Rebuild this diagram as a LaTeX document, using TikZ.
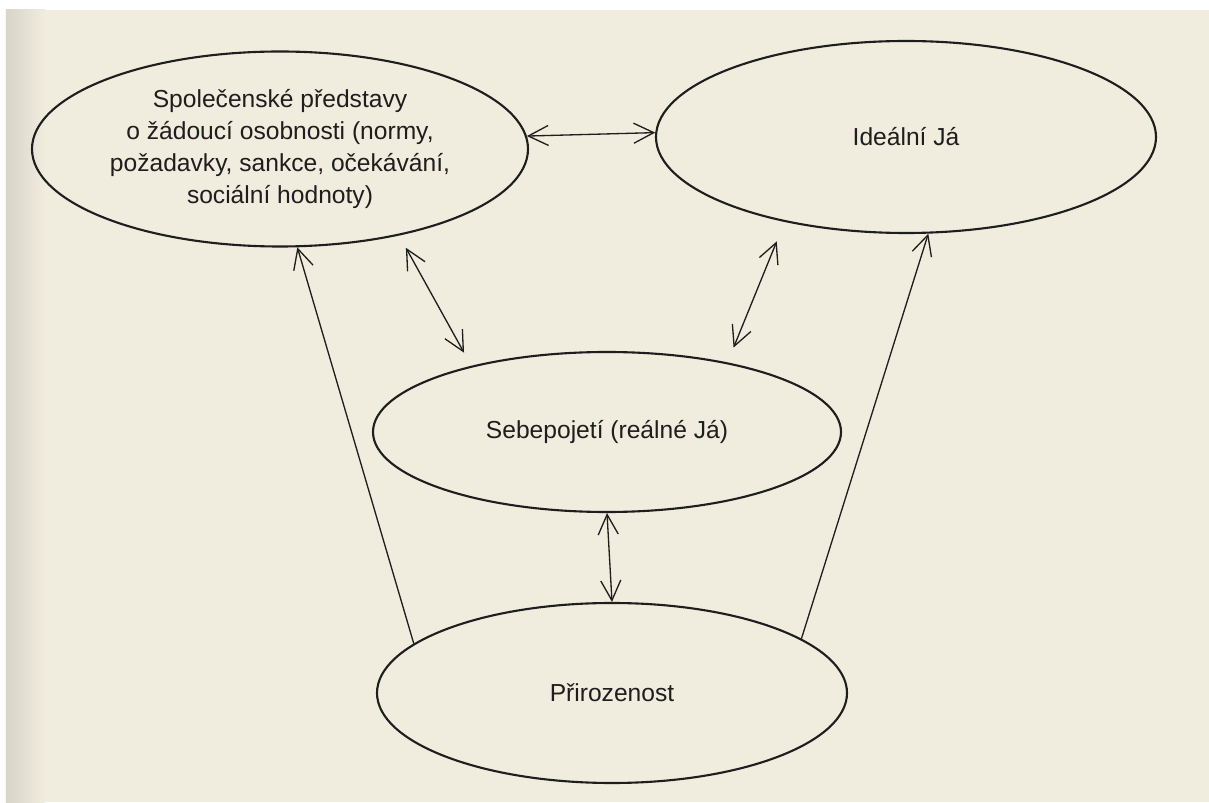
\documentclass[tikz,border=0pt]{standalone}
\usepackage{fontspec}
\setmainfont{Liberation Sans}
\usetikzlibrary{shapes.geometric,arrows.meta}
\definecolor{paper}{HTML}{F0ECDE}
\definecolor{shade}{HTML}{D9D4C9}
\definecolor{ink}{HTML}{1E1E1E}
\tikzset{
  oval/.style={ellipse, draw=ink, line width=1.2pt, inner sep=0pt, align=center,
    text=ink, font=\fontsize{14}{18.2}\selectfont},
  both/.style={draw=ink, line width=0.75pt, {Straight Barb[length=4mm, width=4mm]}-{Straight Barb[length=4mm, width=4mm]}},
  one/.style={draw=ink, line width=0.75pt, -{Straight Barb[length=4mm, width=4mm]}}
}

\begin{document}
\begin{tikzpicture}
% page
\fill[white] (0,0) rectangle (24.18,16.04);
\fill[paper] (0.12,0) rectangle (24.18,15.84);
\shade[left color=shade, right color=paper] (0.12,0) rectangle (0.9,15.84);
\useasboundingbox (0,0) rectangle (24.18,16.04);

% ellipses
\node[oval, minimum width=9.92cm, minimum height=3.9cm] (soc) at (5.60,13.06)
  {Společenské představy\\o žádoucí osobnosti (normy,\\požadavky, sankce, očekávání,\\sociální hodnoty)};
\node[oval, minimum width=10cm, minimum height=3.84cm] (ideal) at (18.12,13.30) {Ideální Já};
\node[oval, minimum width=9.36cm, minimum height=3.2cm] (self) at (12.14,7.40) {Sebepojetí (reálné Já)};
\node[oval, minimum width=9.4cm, minimum height=3.6cm] (nat) at (12.24,2.18) {Přirozenost};

% arrows
\draw[both] (soc.3) -- (ideal.179);
\draw[both, shorten <=2.8mm, shorten >=3mm] (soc.-36) -- (self.154);
\draw[both, shorten <=4.2mm, shorten >=3.2mm] (ideal.215) -- (self.30);
\draw[both] (self.south) -- (nat.north);
\draw[one] (nat.166) -- (soc.280);
\draw[one] (nat.16) -- (ideal.283);
\end{tikzpicture}
\end{document}
